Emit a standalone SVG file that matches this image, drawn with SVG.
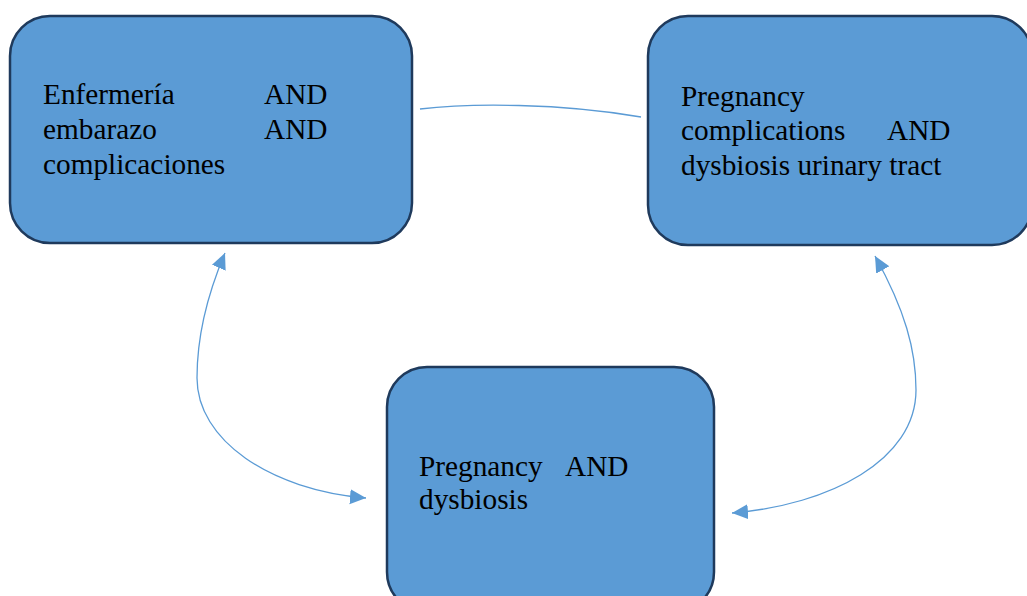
<svg xmlns="http://www.w3.org/2000/svg" width="1027" height="596" viewBox="0 0 1027 596">
<style>
.box{fill:#5b9bd5;stroke:#1f3a5c;stroke-width:2.5}
.t{font-family:"Liberation Serif","Times New Roman",serif;font-size:29.3px;fill:#000}
.c{fill:none;stroke:#5b9bd5;stroke-width:1.3}
</style>
<defs>
<marker id="ah" markerUnits="userSpaceOnUse" markerWidth="18" markerHeight="16" refX="16" refY="7.5" orient="auto-start-reverse">
<path d="M0,0 L16,7.5 L0,15 z" fill="#5b9bd5"/>
</marker>
</defs>
<rect width="1027" height="596" fill="#fff"/>
<g id="connectors">
<path class="c" d="M420,109 C470,103 560,103 641,117"/>
<path class="c" d="M225,253 C205,300 197,340 197,378 C197,440 270,490 366,498" marker-start="url(#ah)" marker-end="url(#ah)"/>
<path class="c" d="M875,256 C905,310 916,350 916,390 C916,460 830,505 732,513" marker-start="url(#ah)" marker-end="url(#ah)"/>
</g>
<g id="node1">
<rect class="box" x="10" y="16" width="402" height="227" rx="40"/>
<text class="t" x="43" y="104">Enfermería</text>
<text class="t" x="264" y="104">AND</text>
<text class="t" x="43" y="139">embarazo</text>
<text class="t" x="264" y="139">AND</text>
<text class="t" x="43" y="174">complicaciones</text>
</g>
<g id="node2">
<rect class="box" x="648" y="16" width="384" height="229" rx="40"/>
<text class="t" x="681" y="106">Pregnancy</text>
<text class="t" x="681" y="140">complications</text>
<text class="t" x="887" y="140">AND</text>
<text class="t" x="681" y="175">dysbiosis urinary tract</text>
</g>
<g id="node3">
<rect class="box" x="387" y="367" width="327" height="245" rx="40"/>
<text class="t" x="419" y="476">Pregnancy</text>
<text class="t" x="565" y="476">AND</text>
<text class="t" x="419" y="509">dysbiosis</text>
</g>
</svg>
